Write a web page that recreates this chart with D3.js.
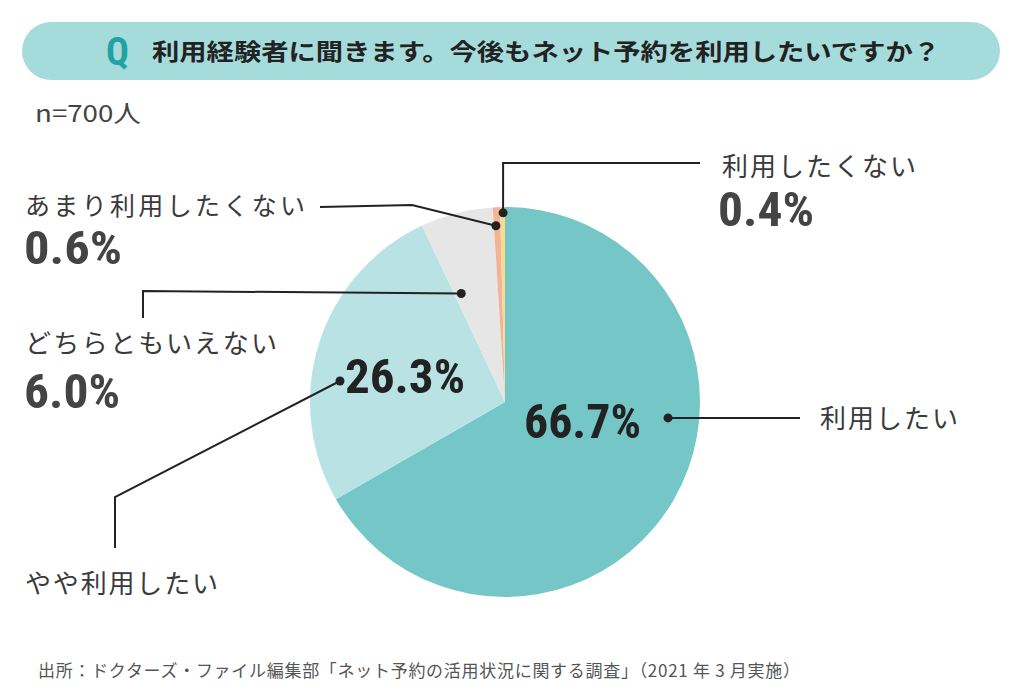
<!DOCTYPE html>
<html><head><meta charset="utf-8">
<script src="https://cdn.jsdelivr.net/npm/d3@7"></script>
<style>body{margin:0;background:#fff}svg{display:block}</style>
</head><body>
<svg id="c" width="1024" height="699"></svg>
<script>
const categories = ["利用したい","やや利用したい","どちらともいえない","あまり利用したくない","利用したくない"];
const values = [66.7, 26.3, 6.0, 0.6, 0.4];
const colors = ["#74c6c7","#b8e2e3","#e6e6e6","#f3b397","#f8db8c"];
const valueLabels = ["66.7%","26.3%","6.0%","0.6%","0.4%"];
const title = "利用経験者に聞きます。今後もネット予約を利用したいですか？";
const sampleNote = "n=700人";
const source = "出所：ドクターズ・ファイル編集部「ネット予約の活用状況に関する調査」（2021 年 3 月実施）";

const svg = d3.select("#c");
const JP = "'Noto Sans CJK JP','Noto Sans',sans-serif";
const NUM = "'Liberation Sans Narrow','Roboto Condensed','DejaVu Sans Condensed',sans-serif";

// title bar
svg.append("rect").attr("x",22).attr("y",22).attr("width",978).attr("height",58).attr("rx",29).attr("fill","#a6dbdc");
svg.append("text").attr("x",106).attr("y",65).attr("font-family",NUM).attr("font-weight","bold").attr("font-size",38).attr("fill","#1fa3a3").text("Q");
svg.append("text").attr("x",152).attr("y",60).attr("font-family",JP).attr("font-weight","bold").attr("font-size",23).attr("fill","#222").attr("textLength",788).attr("lengthAdjust","spacingAndGlyphs").text(title);
svg.append("text").attr("x",35).attr("y",122).attr("font-family",JP).attr("font-size",24).attr("fill","#444").attr("textLength",106).attr("lengthAdjust","spacingAndGlyphs").text(sampleNote);

// pie
const cx = 505, cy = 402, R = 195;
const pie = d3.pie().sort(null).value(d=>d)(values);
const arc = d3.arc().innerRadius(0).outerRadius(R);
const g = svg.append("g").attr("transform",`translate(${cx},${cy})`);
g.selectAll("path").data(pie).join("path").attr("d",arc).attr("fill",(d,i)=>colors[i]);

// leader points derived from arcs
function pt(d, frac, rFrac){ const a=d.startAngle+(d.endAngle-d.startAngle)*frac; return [cx+Math.sin(a)*R*rFrac, cy-Math.cos(a)*R*rFrac]; }
const lines = svg.append("g").attr("stroke","#222").attr("stroke-width",2).attr("fill","none");
const dots = svg.append("g").attr("fill","#222");
function leader(points){
  lines.append("path").attr("d",d3.line()(points));
  dots.append("circle").attr("cx",points[0][0]).attr("cy",points[0][1]).attr("r",4.5);
}
const p0 = pt(pie[0],0.398,0.84); leader([p0,[800,p0[1]]]);
const p1 = pt(pie[1],0.50,0.87); leader([[340,381],[115,497],[115,548]]);
const p2 = pt(pie[2],0.15,0.60); leader([p2,[143,291],[143,318]]);
const p3 = pt(pie[3],0.30,0.905); leader([p3,[412,205],[320,207]]);
const p4 = pt(pie[4],0.60,0.97); leader([p4,[p4[0],163],[700,163]]);

const txt = (x,y,s,size,opts={}) => {
  const t = svg.append("text").attr("x",x).attr("y",y)
  .attr("font-family",opts.num?NUM:JP).attr("font-weight",opts.bold?"bold":"normal")
  .attr("font-size",size).attr("fill",opts.fill||"#3a3a3a").attr("text-anchor",opts.anchor||"start").text(s);
  if(opts.len) t.attr("textLength",opts.len).attr("lengthAdjust",opts.adj||"spacing");
  return t;
};

txt(820,428,categories[0],26,{len:138});
txt(524,438,valueLabels[0],49,{num:true,bold:true,fill:"#222",len:117,adj:"spacingAndGlyphs"});
txt(25,593,categories[1],26,{len:193});
txt(345,393,valueLabels[1],49,{num:true,bold:true,fill:"#222",len:120,adj:"spacingAndGlyphs"});
txt(25,353,categories[2],26,{len:252});
txt(24,408,valueLabels[2],49,{num:true,bold:true,fill:"#444",len:96,adj:"spacingAndGlyphs"});
txt(25,215,categories[3],25,{len:280});
txt(24,264,valueLabels[3],47,{num:true,bold:true,fill:"#444",len:98,adj:"spacingAndGlyphs"});
txt(722,176,categories[4],26,{len:194});
txt(718,226,valueLabels[4],49,{num:true,bold:true,fill:"#444",len:96,adj:"spacingAndGlyphs"});

txt(38,677,source,17,{fill:"#555",len:762});
</script>
</body></html>
